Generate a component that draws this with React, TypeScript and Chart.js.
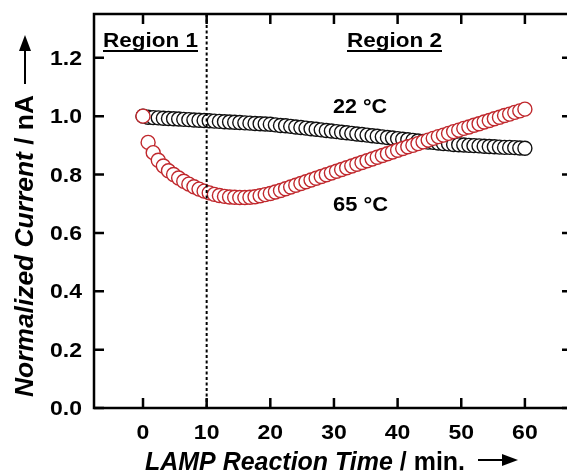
import React, { useEffect, useRef } from 'react';
import { Chart, registerables } from 'chart.js';
Chart.register(...registerables);

// ---- data ----
const times = [
  0, 0.8, 1.6, 2.4, 3.2, 4.0, 4.8, 5.6, 6.4, 7.2, 8.0, 8.8, 9.6, 10.4, 11.2,
  12.0, 12.8, 13.6, 14.4, 15.2, 16.0, 16.8, 17.6, 18.4, 19.2, 20.0, 20.8,
  21.6, 22.4, 23.2, 24.0, 24.8, 25.6, 26.4, 27.2, 28.0, 28.8, 29.6, 30.4,
  31.2, 32.0, 32.8, 33.6, 34.4, 35.2, 36.0, 36.8, 37.6, 38.4, 39.2, 40.0,
  40.8, 41.6, 42.4, 43.2, 44.0, 44.8, 45.6, 46.4, 47.2, 48.0, 48.8, 49.6,
  50.4, 51.2, 52.0, 52.8, 53.6, 54.4, 55.2, 56.0, 56.8, 57.6, 58.4, 59.2, 60.0,
];
const current22C = [
  1.0, 0.996, 0.995, 0.994, 0.993, 0.992, 0.991, 0.99, 0.989, 0.988, 0.987,
  0.986, 0.985, 0.984, 0.983, 0.982, 0.981, 0.98, 0.979, 0.978, 0.977,
  0.976, 0.975, 0.974, 0.973, 0.972, 0.97, 0.968, 0.967, 0.965, 0.963,
  0.961, 0.959, 0.957, 0.955, 0.953, 0.951, 0.949, 0.947, 0.945, 0.943,
  0.941, 0.939, 0.937, 0.935, 0.933, 0.931, 0.929, 0.927, 0.925, 0.923,
  0.921, 0.919, 0.917, 0.915, 0.913, 0.911, 0.91, 0.908, 0.906, 0.905,
  0.903, 0.902, 0.901, 0.9, 0.899, 0.898, 0.897, 0.896, 0.895, 0.894,
  0.893, 0.893, 0.892, 0.891, 0.89,
];
const current65C = [
  1.0, 0.91, 0.875, 0.849, 0.829, 0.813, 0.8, 0.788, 0.777, 0.767, 0.758,
  0.75, 0.743, 0.737, 0.732, 0.728, 0.725, 0.723, 0.722, 0.721, 0.721,
  0.722, 0.724, 0.727, 0.731, 0.735, 0.74, 0.745, 0.751, 0.757, 0.763,
  0.769, 0.775, 0.781, 0.787, 0.793, 0.799, 0.805, 0.811, 0.817, 0.823,
  0.829, 0.835, 0.841, 0.847, 0.853, 0.859, 0.865, 0.871, 0.877, 0.883,
  0.889, 0.895, 0.9, 0.906, 0.912, 0.918, 0.924, 0.93, 0.935, 0.941,
  0.947, 0.952, 0.958, 0.963, 0.969, 0.974, 0.98, 0.985, 0.991, 0.996,
  1.002, 1.007, 1.013, 1.018, 1.024,
];
const xTicks = [0, 10, 20, 30, 40, 50, 60];
const xTickLabels = ['0', '10', '20', '30', '40', '50', '60'];
const yTicks = [0, 0.2, 0.4, 0.6, 0.8, 1.0, 1.2];
const yTickLabels = ['0.0', '0.2', '0.4', '0.6', '0.8', '1.0', '1.2'];
const regionBoundary = 10;
const regionLabels = ['Region 1', 'Region 2'];
const seriesLabels = ['22 °C', '65 °C'];
const xTitle = ['LAMP Reaction Time', ' / min.'];
const yTitle = ['Normalized Current', ' / nA'];

const FONT = '"Liberation Sans", Arial, sans-serif';

function drawFit(
  ctx: CanvasRenderingContext2D,
  text: string,
  x: number,
  y: number,
  font: string,
  sx: number,
  align: 'left' | 'center' | 'right'
) {
  ctx.save();
  ctx.font = font;
  const w = ctx.measureText(text).width * sx;
  const x0 = align === 'left' ? x : align === 'center' ? x - w / 2 : x - w;
  ctx.translate(x0, y);
  ctx.scale(sx, 1);
  ctx.textAlign = 'left';
  ctx.textBaseline = 'alphabetic';
  ctx.fillStyle = '#000';
  ctx.fillText(text, 0, 0);
  ctx.restore();
  return w;
}

function drawToWidth(
  ctx: CanvasRenderingContext2D,
  parts: { t: string; f: string }[],
  x: number,
  y: number,
  width: number
) {
  ctx.save();
  let total = 0;
  for (const p of parts) {
    ctx.font = p.f;
    total += ctx.measureText(p.t).width;
  }
  const sx = width / total;
  let cx = x;
  for (const p of parts) {
    cx += drawFit(ctx, p.t, cx, y, p.f, sx, 'left');
  }
  ctx.restore();
}

const framePlugin = {
  id: 'framePlugin',
  afterDraw(chart: any) {
    const ctx: CanvasRenderingContext2D = chart.ctx;
    const { left, right, top, bottom } = chart.chartArea;
    const xs = chart.scales.x;
    const ys = chart.scales.y;
    ctx.save();
    ctx.strokeStyle = '#000';
    ctx.fillStyle = '#000';

    // region boundary dashed line
    const bx = xs.getPixelForValue(regionBoundary);
    ctx.setLineDash([3, 2.5]);
    ctx.lineWidth = 2;
    ctx.beginPath();
    ctx.moveTo(bx, top);
    ctx.lineTo(bx, bottom);
    ctx.stroke();
    ctx.setLineDash([]);

    // frame
    ctx.lineWidth = 2.5;
    ctx.strokeRect(left, top, right - left, bottom - top);

    // ticks (inward)
    const tl = 10;
    ctx.beginPath();
    for (const v of xTicks) {
      const px = xs.getPixelForValue(v);
      ctx.moveTo(px, bottom);
      ctx.lineTo(px, bottom - tl);
      ctx.moveTo(px, top);
      ctx.lineTo(px, top + tl);
    }
    for (const v of yTicks) {
      const py = ys.getPixelForValue(v);
      ctx.moveTo(left, py);
      ctx.lineTo(left + tl, py);
      ctx.moveTo(right, py);
      ctx.lineTo(right - tl, py);
    }
    ctx.stroke();

    // tick labels
    const tickFont = `bold 20px ${FONT}`;
    xTicks.forEach((v, i) => {
      drawFit(ctx, xTickLabels[i], xs.getPixelForValue(v), 439, tickFont, 1.15, 'center');
    });
    yTicks.forEach((v, i) => {
      drawFit(ctx, yTickLabels[i], left - 12, ys.getPixelForValue(v) + 7, tickFont, 1.15, 'right');
    });

    // region labels with underline
    const regFont = `bold 21px ${FONT}`;
    const regPos = [103, 347];
    regionLabels.forEach((t, i) => {
      drawToWidth(ctx, [{ t, f: regFont }], regPos[i], 47, 95);
      ctx.lineWidth = 2;
      ctx.beginPath();
      ctx.moveTo(regPos[i], 51);
      ctx.lineTo(regPos[i] + 95, 51);
      ctx.stroke();
    });

    // series labels
    const serFont = `bold 21px ${FONT}`;
    drawToWidth(ctx, [{ t: seriesLabels[0], f: serFont }], 333, 113, 54);
    drawToWidth(ctx, [{ t: seriesLabels[1], f: serFont }], 333, 211, 55);

    // x title
    const itFont = `italic bold 25px ${FONT}`;
    const bFont = `bold 25px ${FONT}`;
    drawToWidth(ctx, [{ t: xTitle[0], f: itFont }, { t: xTitle[1], f: bFont }], 145, 470, 320);
    // x arrow
    ctx.lineWidth = 2;
    ctx.beginPath();
    ctx.moveTo(478, 460);
    ctx.lineTo(504, 460);
    ctx.stroke();
    ctx.beginPath();
    ctx.moveTo(518, 460);
    ctx.lineTo(502, 454);
    ctx.lineTo(502, 466);
    ctx.closePath();
    ctx.fill();

    // y title (rotated)
    ctx.save();
    ctx.translate(33, 397);
    ctx.rotate(-Math.PI / 2);
    drawToWidth(ctx, [{ t: yTitle[0], f: `italic bold 26px ${FONT}` }, { t: yTitle[1], f: `bold 26px ${FONT}` }], 0, 0, 302);
    ctx.restore();
    // y arrow
    ctx.lineWidth = 2;
    ctx.beginPath();
    ctx.moveTo(25, 84);
    ctx.lineTo(25, 48);
    ctx.stroke();
    ctx.beginPath();
    ctx.moveTo(25, 35);
    ctx.lineTo(19, 51);
    ctx.lineTo(31, 51);
    ctx.closePath();
    ctx.fill();

    ctx.restore();
  },
};

export default function App() {
  const canvasRef = useRef<HTMLCanvasElement | null>(null);

  useEffect(() => {
    document.body.style.margin = '0';
    document.body.style.overflow = 'hidden';
    const canvas = canvasRef.current;
    if (!canvas) return;
    const chart = new Chart(canvas, {
      type: 'scatter',
      data: {
        datasets: [
          {
            label: seriesLabels[1],
            data: times.map((t, i) => ({ x: t, y: current65C[i] })),
            borderColor: '#c0282d',
            backgroundColor: '#ffffff',
            pointRadius: 7,
            pointBorderWidth: 1.4,
            showLine: false,
          },
          {
            label: seriesLabels[0],
            data: times.map((t, i) => ({ x: t, y: current22C[i] })),
            borderColor: '#111111',
            backgroundColor: '#ffffff',
            pointRadius: 7,
            pointBorderWidth: 1.4,
            showLine: false,
          },
        ],
      },
      options: {
        animation: false,
        responsive: false,
        devicePixelRatio: 1,
        layout: { autoPadding: false, padding: { top: 14, right: 3, left: 0, bottom: 0 } },
        plugins: { legend: { display: false }, tooltip: { enabled: false } },
        scales: {
          x: {
            type: 'linear',
            min: -7.7,
            max: 67.4,
            grid: { display: false, drawTicks: false },
            border: { display: false },
            ticks: { display: false },
            afterBuildTicks: (s: any) => {
              s.ticks = xTicks.map((v) => ({ value: v }));
            },
            afterFit: (s: any) => {
              s.height = 63;
            },
          },
          y: {
            type: 'linear',
            min: 0,
            max: 1.35,
            grid: { display: false, drawTicks: false },
            border: { display: false },
            ticks: { display: false },
            afterBuildTicks: (s: any) => {
              s.ticks = yTicks.map((v) => ({ value: v }));
            },
            afterFit: (s: any) => {
              s.width = 94;
            },
          },
        },
      },
      plugins: [framePlugin],
    });
    return () => chart.destroy();
  }, []);

  return (
    <div style={{ width: 567, height: 471, overflow: 'hidden', background: '#fff' }}>
      <div style={{ width: 575, height: 471 }}>
        <canvas ref={canvasRef} width={575} height={471} style={{ display: 'block', width: 575, height: 471 }} />
      </div>
    </div>
  );
}
